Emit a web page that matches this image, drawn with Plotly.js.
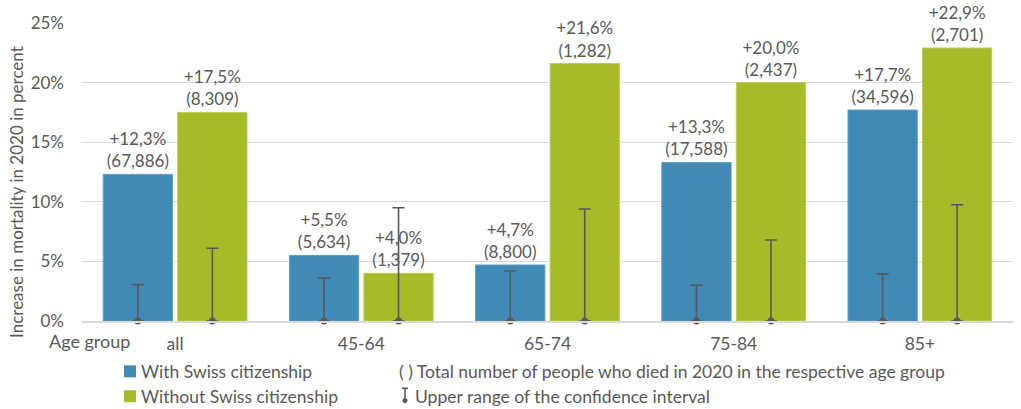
<!DOCTYPE html>
<html><head><meta charset="utf-8">
<script src="https://cdn.plot.ly/plotly-3.0.1.min.js"></script>
<style>html,body{margin:0;padding:0;background:#fff}#chart{width:1021px;height:409px}</style>
</head><body><div id="chart"></div>
<script>
const categories = ['all', '45-64', '65-74', '75-84', '85+'];
const withSwiss = [12.3, 5.5, 4.7, 13.3, 17.7];
const withoutSwiss = [17.5, 4.0, 21.6, 20.0, 22.9];
const deathsWith = ['67,886', '5,634', '8,800', '17,588', '34,596'];
const deathsWithout = ['8,309', '1,379', '1,282', '2,437', '2,701'];
const ciUpperWith = [3.05, 3.6, 4.2, 3.0, 3.95];
const ciUpperWithout = [6.1, 9.5, 9.4, 6.8, 9.75];
const yTicks = [0, 5, 10, 15, 20, 25];
const yTickText = ['0%', '5%', '10%', '15%', '20%', '25%'];

const FONT = 'Lato, "Open Sans", sans-serif';
const TXT = '#595959';
const BLUE = '#408ab5', GREEN = '#a8b92a';
const ERR = '#595959';

function labels(vals, counts) {
  return vals.map((v, i) => '+' + v.toFixed(1).replace('.', ',') + '%<br>(' + counts[i] + ')');
}

const zeros = categories.map(() => 0);

const traces = [
  {type: 'bar', x: categories, y: withSwiss, name: 'With Swiss citizenship', offsetgroup: 'a',
   marker: {color: BLUE, line: {color: '#5d9dc4', width: 1}},
   text: labels(withSwiss, deathsWith), textposition: 'outside', cliponaxis: false,
   textfont: {family: FONT, size: 17, color: TXT}, hoverinfo: 'skip'},
  {type: 'bar', x: categories, y: withoutSwiss, name: 'Without Swiss citizenship', offsetgroup: 'b',
   marker: {color: GREEN, line: {color: '#bccb55', width: 1}},
   text: labels(withoutSwiss, deathsWithout), textposition: 'outside', cliponaxis: false,
   textfont: {family: FONT, size: 17, color: TXT}, hoverinfo: 'skip'},
  {type: 'scatter', mode: 'markers', x: categories, y: zeros, offsetgroup: 'a', cliponaxis: false,
   marker: {color: ERR, size: 7},
   error_y: {type: 'data', symmetric: false, array: ciUpperWith, arrayminus: zeros, color: ERR, thickness: 1.6, width: 6}},
  {type: 'scatter', mode: 'markers', x: categories, y: zeros, offsetgroup: 'b', cliponaxis: false,
   marker: {color: ERR, size: 7},
   error_y: {type: 'data', symmetric: false, array: ciUpperWithout, arrayminus: zeros, color: ERR, thickness: 1.6, width: 6}}
];

// pixel -> paper helpers (plot area 82..1013 x, 22.5..321.5 y)
const L = 82, R = 1013, T = 22.5, B = 321.5;
const px = v => (v - L) / (R - L);
const py = v => (B - v) / (B - T);

const legendFont = {family: FONT, size: 17.5, color: TXT};
const annotations = [
  {xref: 'paper', yref: 'paper', x: px(47), y: py(342), xanchor: 'left', yanchor: 'middle', showarrow: false,
   text: 'Age group', font: {family: FONT, size: 18, color: TXT}},
  {xref: 'paper', yref: 'paper', x: px(17), y: py(192), xanchor: 'center', yanchor: 'middle', showarrow: false,
   textangle: -90, text: 'Increase in mortality in 2020 in percent', font: {family: FONT, size: 17, color: TXT}},
  {xref: 'paper', yref: 'paper', x: px(139), y: py(372), xanchor: 'left', yanchor: 'middle', showarrow: false,
   text: 'With Swiss citizenship', font: legendFont},
  {xref: 'paper', yref: 'paper', x: px(139), y: py(397), xanchor: 'left', yanchor: 'middle', showarrow: false,
   text: 'Without Swiss citizenship', font: legendFont},
  {xref: 'paper', yref: 'paper', x: px(397), y: py(372), xanchor: 'left', yanchor: 'middle', showarrow: false,
   text: '( ) Total number of people who died in 2020 in the respective age group', font: legendFont},
  {xref: 'paper', yref: 'paper', x: px(413), y: py(397), xanchor: 'left', yanchor: 'middle', showarrow: false,
   text: 'Upper range of the confidence interval', font: legendFont}
];

const shapes = [
  {type: 'rect', xref: 'paper', yref: 'paper', x0: px(124), x1: px(136), y0: py(378), y1: py(366),
   fillcolor: BLUE, line: {width: 0}},
  {type: 'rect', xref: 'paper', yref: 'paper', x0: px(124), x1: px(136), y0: py(403), y1: py(391),
   fillcolor: GREEN, line: {width: 0}},
  {type: 'line', xref: 'paper', yref: 'paper', x0: px(405), x1: px(405), y0: py(389), y1: py(401),
   line: {color: ERR, width: 1.6}},
  {type: 'line', xref: 'paper', yref: 'paper', x0: px(402), x1: px(408), y0: py(389), y1: py(389),
   line: {color: ERR, width: 1.6}},
  {type: 'circle', xref: 'paper', yref: 'paper', x0: px(402.5), x1: px(407.5), y0: py(404), y1: py(399),
   fillcolor: ERR, line: {width: 0}}
];

const layout = {
  width: 1021, height: 409,
  margin: {l: L, r: 1021 - R, t: T, b: 409 - B},
  paper_bgcolor: '#fff', plot_bgcolor: '#fff',
  barmode: 'group', bargap: 0.2, bargroupgap: 0.07,
  scattermode: 'group', scattergap: 0.2,
  showlegend: false,
  font: {family: FONT, color: TXT},
  xaxis: {type: 'category', showgrid: false, showline: true, linecolor: '#d9d9d9', linewidth: 1.5,
          ticks: '', tickfont: {family: FONT, size: 17.5, color: TXT}, ticklabelstandoff: 6, zeroline: false,
          fixedrange: true},
  yaxis: {range: [0, 25], tickvals: yTicks, ticktext: yTickText, showgrid: true, gridcolor: '#d9d9d9',
          gridwidth: 1, zeroline: false, showline: false, ticks: '',
          tickfont: {family: FONT, size: 17, color: TXT}, ticklabelstandoff: 17, fixedrange: true},
  annotations: annotations,
  shapes: shapes
};

Plotly.newPlot('chart', traces, layout, {displayModeBar: false, staticPlot: true});
</script>
</body></html>
